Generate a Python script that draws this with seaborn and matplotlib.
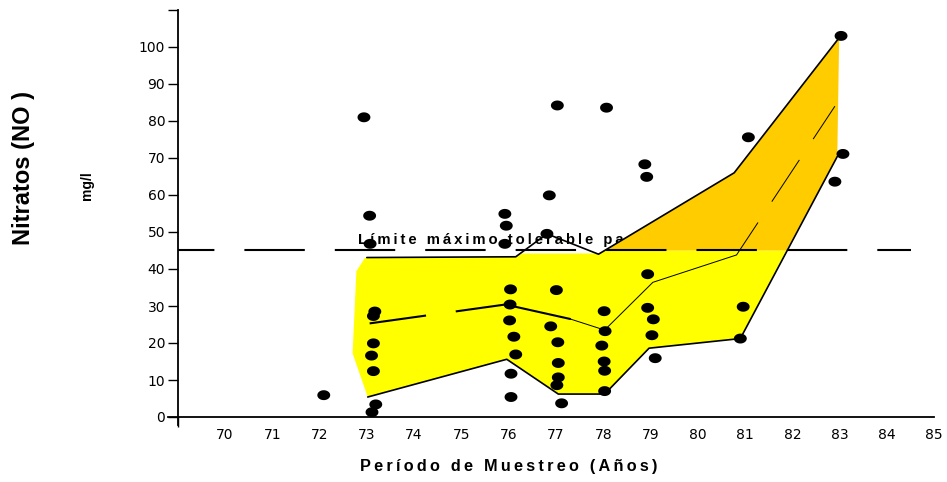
import numpy as np
import pandas as pd
import matplotlib
matplotlib.use("Agg")
import matplotlib.pyplot as plt
from matplotlib.path import Path
from matplotlib.ticker import FixedLocator
import seaborn as sns

# ---------------- data ----------------
sample_year = [72.09,
               72.94, 73.06, 73.07, 73.17, 73.14, 73.14, 73.10, 73.14, 73.19, 73.11,
               75.92, 75.95, 75.92, 76.04, 76.03, 76.02, 76.11, 76.15, 76.05, 76.05,
               77.03, 76.86, 76.81, 77.01, 76.89, 77.04, 77.05, 77.05, 77.02, 77.12,
               78.07, 78.02, 78.04, 77.97, 78.02, 78.03, 78.03,
               78.88, 78.92, 78.94, 78.94, 79.06, 79.03, 79.10,
               81.07, 80.96, 80.90,
               83.03, 83.07, 82.90]
nitrate = [5.9,
           81.0, 54.4, 46.8, 28.5, 27.3, 19.9, 16.6, 12.4, 3.4, 1.3,
           54.9, 51.7, 46.8, 34.5, 30.4, 26.1, 21.7, 16.9, 11.7, 5.4,
           84.2, 59.9, 49.5, 34.3, 24.5, 20.2, 14.6, 10.7, 8.6, 3.7,
           83.6, 28.6, 23.2, 19.3, 15.0, 12.5, 7.0,
           68.3, 64.9, 38.6, 29.5, 26.4, 22.1, 15.9,
           75.6, 29.8, 21.2,
           103.0, 71.1, 63.6]

upper_year = [73.0, 76.15, 76.81, 77.9, 80.77, 82.99]
upper_val = [43.1, 43.3, 49.5, 44.0, 66.0, 102.5]
lower_year = [73.02, 75.96, 77.05, 78.03, 78.97, 80.90, 82.95]
lower_val = [5.4, 15.6, 6.2, 6.2, 18.6, 21.2, 70.4]
median_year = [73.06, 75.93, 77.3, 78.03, 79.05, 80.82, 82.9]
median_val = [25.3, 30.4, 26.5, 23.5, 36.4, 43.8, 84.0]

yellow_year = [72.96, 76.15, 76.30, 77.90, 78.03, 81.87, 80.90, 78.97, 78.03,
               77.05, 75.96, 73.02, 72.70, 72.78]
yellow_val = [43.0, 43.3, 44.2, 44.2, 45.0, 45.0, 21.2, 18.6, 6.2,
              6.2, 15.6, 5.4, 17.2, 39.4]
orange_year = [78.03, 80.77, 82.99, 82.95, 81.87]
orange_val = [45.0, 66.0, 102.5, 70.4, 45.0]

limit_val = 45
limit_span = [69.0, 84.5]

x_ticks = list(range(70, 86))
x_marks = list(range(69, 86, 2))
y_ticks = list(range(0, 111, 10))
y_labels = [str(v) for v in range(0, 101, 10)] + [""]

limit_text = "Límite máximo tolerable para consumo"
x_title = "Período de Muestreo (Años)"
y_title = "Nitratos (NO )"
unit = "mg/l"

# ---------------- style ----------------
sns.set_theme(style="white")
plt.rcParams["font.family"] = ["DejaVu Sans"]
plt.rcParams["lines.scale_dashes"] = False
for key in ("text.color", "axes.labelcolor", "xtick.color", "ytick.color",
            "xtick.labelcolor", "ytick.labelcolor"):
    plt.rcParams[key] = "black"
LBL = ["Liberation Sans", "DejaVu Sans"]
TS = "\u2009"


def spaced(s):
    return (TS + " " + TS).join(TS.join(w) for w in s.split(" "))


fig = plt.figure(figsize=(9.47, 4.82), dpi=100)
ax = fig.add_axes([168.2 / 947, 56.86 / 482, 766 / 947, 415.14 / 482])
ax.set_xlim(68.8, 85)
ax.set_ylim(-2.2, 110)

# filled bands
ax.fill(yellow_year, yellow_val, color="#FFFF00", lw=0, zorder=2)
ax.fill(orange_year, orange_val, color="#FFCC00", lw=0, zorder=2)

# limit text (behind orange band)
ax.text(72.81, 47.9, spaced(limit_text), family=LBL, fontweight="bold",
        fontsize=10.7, ha="left", va="center", zorder=1.5, color="black")

# limit line
ax.plot(limit_span, [limit_val, limit_val], color="black", lw=1.5,
        linestyle=(17.3, (43.5, 21.6)), solid_capstyle="butt",
        dash_capstyle="butt", zorder=3)

# envelopes
sns.lineplot(x=upper_year, y=upper_val, sort=False, estimator=None,
             color="black", lw=1.2, ax=ax, zorder=3)
sns.lineplot(x=lower_year, y=lower_val, sort=False, estimator=None,
             color="black", lw=1.2, ax=ax, zorder=3)

# median line in styled pieces
ax.plot(median_year[0:2], median_val[0:2], color="black", lw=1.5,
        linestyle=(0, (41, 21.6)), dash_capstyle="butt", zorder=3)
ax.plot(median_year[1:3], median_val[1:3], color="black", lw=1.5, zorder=3)
ax.plot(median_year[2:6], median_val[2:6], color="black", lw=0.7, zorder=3)
ax.plot(median_year[5:7], median_val[5:7], color="black", lw=0.7,
        linestyle=(8, (36, 18)), dash_capstyle="butt", zorder=3)

# points (slightly elliptic black dots)
t = np.linspace(0, 2 * np.pi, 60)
ellipse = Path(np.c_[1.3 * np.cos(t), np.sin(t)], closed=True)
df = pd.DataFrame({"year": sample_year, "nitrate": nitrate})
sns.scatterplot(data=df, x="year", y="nitrate", marker=ellipse, s=86,
                color="black", edgecolor="none", linewidth=0, ax=ax, zorder=5)

# axes
for side in ("top", "right"):
    ax.spines[side].set_visible(False)
ax.spines["left"].set_position(("data", 69))
ax.spines["bottom"].set_position(("data", 0))
for side in ("left", "bottom"):
    ax.spines[side].set_color("black")
    ax.spines[side].set_linewidth(1.3)

ax.set_yticks(y_ticks)
ax.set_yticklabels(y_labels)
ax.tick_params(axis="y", direction="out", length=7, width=1, pad=2,
               labelsize=10, color="black", labelcolor="black", left=True)
ax.set_xticks(x_ticks)
ax.set_xticklabels([str(v) for v in x_ticks])
ax.xaxis.set_minor_locator(FixedLocator(x_marks))
ax.tick_params(axis="x", which="major", length=0, pad=8, labelsize=10,
               labelcolor="black", bottom=True)
ax.tick_params(axis="x", which="minor", direction="out", length=7, width=1,
               color="black", bottom=True)

ax.set_xlabel(spaced(x_title), family=LBL, fontweight="bold", fontsize=11.7,
              color="black")
ax.xaxis.set_label_coords((509 - 168.2) / 766, (425.14 - 467) / 415.14)
ax.xaxis.label.set_va("center")
ax.set_ylabel(y_title, family=LBL, fontweight="bold", fontsize=17,
              color="black")
ax.yaxis.set_label_coords((24 - 168.2) / 766, (425.14 - 168.5) / 415.14)
ax.yaxis.label.set_va("center")
ax.text((87 - 168.2) / 766, (425.14 - 186) / 415.14, unit, family=LBL,
        fontweight="bold", fontsize=10, rotation=90, ha="center",
        va="center", transform=ax.transAxes, color="black")

ax.grid(False)
fig.savefig("out.png", dpi=100)
